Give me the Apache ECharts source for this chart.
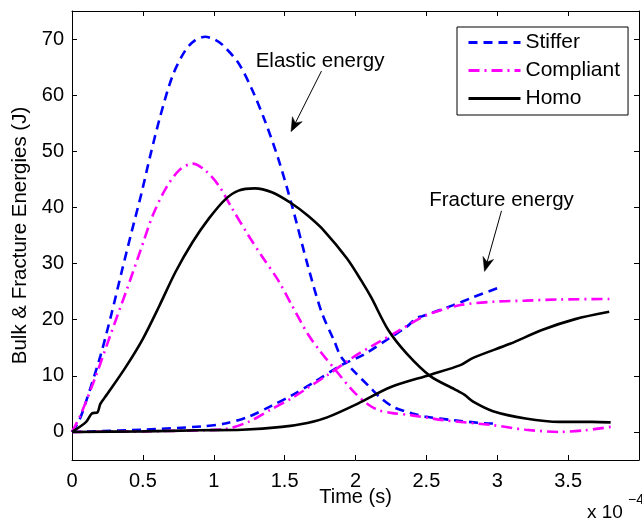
<!DOCTYPE html>
<html>
<head>
<meta charset="utf-8">
<script src="https://cdn.jsdelivr.net/npm/echarts@6/dist/echarts.min.js"></script>
<style>
  html, body { margin: 0; padding: 0; background: #fff; }
  #chart { width: 642px; height: 525px; }
</style>
</head>
<body>
<div id="chart"></div>
<script>
// Time in units of 1e-4 s, energy in J: [time, energy]
const stifferElastic = [[0,0],[0.05,2.0],[0.1,5.5],[0.2,13.5],[0.28,21.2],[0.35,28.5],[0.42,35.6],[0.49,42.5],[0.55,49.0],[0.62,56.0],[0.71,63.5],[0.8,68.0],[0.87,69.8],[0.94,70.4],[1.0,70.0],[1.06,69.0],[1.175,65.7],[1.27,61.0],[1.36,55.5],[1.455,48.7],[1.55,40.5],[1.665,29.5],[1.76,21.4],[1.85,16.2],[1.9,13.3],[1.99,10.8],[2.1,8.0],[2.18,6.0],[2.27,4.4],[2.35,3.7],[2.4,3.3],[2.5,2.7],[2.69,2.1],[2.97,1.5],[3.0,1.5]];
const stifferFracture = [[0,0],[0.15,0.1],[0.5,0.4],[0.92,1.0],[1.08,1.5],[1.245,2.7],[1.41,4.7],[1.55,6.5],[1.71,8.9],[1.9,11.9],[2.06,13.8],[2.25,16.9],[2.36,18.7],[2.43,20.3],[2.47,20.6],[2.69,22.6],[2.83,24.0],[3.0,25.6]];
const compliantElastic = [[0,0],[0.06,3.0],[0.17,10.1],[0.27,17.2],[0.38,24.9],[0.48,32.1],[0.57,38.6],[0.66,43.3],[0.755,46.6],[0.85,47.8],[0.94,46.6],[1.035,43.9],[1.13,39.8],[1.245,35.0],[1.34,31.3],[1.455,27.0],[1.55,22.6],[1.665,17.4],[1.75,14.4],[1.85,11.3],[1.99,7.1],[2.1,4.7],[2.17,3.8],[2.25,3.4],[2.39,3.0],[2.62,2.1],[2.97,1.2],[3.2,0.4],[3.44,0],[3.62,0.3],[3.8,0.9]];
const compliantFracture = [[0,0],[0.5,0.1],[0.92,0.3],[1.08,0.5],[1.245,1.8],[1.41,4.1],[1.55,6.0],[1.66,7.8],[1.8,10.1],[2.02,13.9],[2.27,17.5],[2.5,20.8],[2.74,22.6],[2.97,23.2],[3.2,23.4],[3.44,23.6],[3.8,23.7]];
const homoElastic = [[0,0],[0.1,1.8],[0.14,3.3],[0.18,3.5],[0.2,5.0],[0.25,6.8],[0.38,11.6],[0.5,16.6],[0.615,22.4],[0.73,28.5],[0.85,33.8],[0.965,38.0],[1.08,41.4],[1.175,43.0],[1.29,43.4],[1.41,42.7],[1.55,40.7],[1.665,38.5],[1.78,35.8],[1.94,30.9],[2.04,27.0],[2.11,24.0],[2.23,18.2],[2.36,14.0],[2.53,9.9],[2.7,7.6],[2.77,6.6],[2.83,5.4],[2.97,3.7],[3.2,2.4],[3.44,1.8],[3.67,1.8],[3.8,1.7]];
const homoFracture = [[0,0],[0.5,0.1],[0.9,0.3],[1.2,0.4],[1.48,0.9],[1.66,1.6],[1.8,2.6],[2.02,5.1],[2.25,8.0],[2.53,10.2],[2.74,11.9],[2.83,13.2],[3.09,15.7],[3.32,18.2],[3.55,20.1],[3.79,21.4]];

const legendNames = ['Stiffer', 'Compliant', 'Homo'];
const xTicks = [0, 0.5, 1, 1.5, 2, 2.5, 3, 3.5, 4];
const xTickLabels = ['0', '0.5', '1', '1.5', '2', '2.5', '3', '3.5', ''];
const yTicks = [0, 10, 20, 30, 40, 50, 60, 70];
const xScaleNote = 'x 10';
const xScaleExp = '\u22124';

// Annotations: text anchor and arrow [from, to] in data coordinates
const annotations = [
  { text: 'Elastic energy', at: [1.75, 66.1], from: [1.76, 64.3], to: [1.545, 53.5] },
  { text: 'Fracture energy', at: [3.03, 41.2], from: [3.03, 39.4], to: [2.91, 28.6] }
];

const FONT = '"Liberation Sans", Arial, Helvetica, sans-serif';
const styles = {
  Stiffer: { color: '#0000ff', type: [9, 6] },
  Compliant: { color: '#ff00ff', type: [11, 5, 2, 5] },
  Homo: { color: '#000000', type: 'solid' }
};

function lineSeries(name, data) {
  return {
    name: name,
    type: 'line',
    data: data,
    symbol: 'none',
    smooth: 0.3,
    lineStyle: { color: styles[name].color, width: 2.6, type: styles[name].type },
    itemStyle: { color: styles[name].color },
    emphasis: { disabled: true },
    z: 3
  };
}

const tickStyle = { show: true, inside: true, length: 5, lineStyle: { color: '#000', width: 1 } };
const lineAxis = { show: true, onZero: false, lineStyle: { color: '#000', width: 1 } };

const chart = echarts.init(document.getElementById('chart'), null, { renderer: 'canvas' });
chart.setOption({
  animation: false,
  backgroundColor: '#fff',
  textStyle: { fontFamily: FONT },
  grid: { left: 72, top: 11, width: 573, height: 449, containLabel: false },
  legend: {
    data: legendNames,
    orient: 'vertical',
    left: 457,
    top: 27,
    padding: [5, 8, 6, 10],
    itemWidth: 52,
    itemHeight: 14,
    itemGap: 7,
    borderColor: '#000',
    borderWidth: 1,
    backgroundColor: '#fff',
    selectedMode: false,
    itemStyle: { opacity: 0 },
    lineStyle: { width: 3 },
    textStyle: { fontFamily: FONT, fontSize: 21, color: '#000' }
  },
  xAxis: [
    {
      type: 'value', min: 0, max: 4, interval: 0.5,
      name: 'Time (s)', nameLocation: 'middle', nameGap: 27, nameMoveOverlap: false,
      nameTextStyle: { fontFamily: FONT, fontSize: 20, color: '#000' },
      axisLine: lineAxis, axisTick: tickStyle, splitLine: { show: false },
      axisLabel: {
        fontFamily: FONT, fontSize: 20, color: '#000', margin: 11,
        formatter: function (v) { const i = xTicks.indexOf(v); return i >= 0 ? xTickLabels[i] : ''; }
      }
    },
    {
      type: 'value', min: 0, max: 4, interval: 0.5, position: 'top',
      axisLine: lineAxis, axisTick: tickStyle, axisLabel: { show: false }, splitLine: { show: false }
    }
  ],
  yAxis: [
    {
      type: 'value', min: -5, max: 75,
      name: 'Bulk & Fracture Energies (J)', nameLocation: 'middle', nameGap: 38,
      nameTextStyle: { fontFamily: FONT, fontSize: 20.5, color: '#000' },
      axisLine: lineAxis,
      axisTick: Object.assign({}, tickStyle, { customValues: yTicks }),
      axisLabel: { fontFamily: FONT, fontSize: 20, color: '#000', margin: 8, customValues: yTicks },
      splitLine: { show: false }
    },
    {
      type: 'value', min: -5, max: 75, position: 'right',
      axisLine: lineAxis,
      axisTick: Object.assign({}, tickStyle, { customValues: yTicks }),
      axisLabel: { show: false }, splitLine: { show: false }
    }
  ],
  series: [
    lineSeries('Stiffer', stifferElastic),
    lineSeries('Stiffer', stifferFracture),
    lineSeries('Compliant', compliantElastic),
    lineSeries('Compliant', compliantFracture),
    lineSeries('Homo', homoElastic),
    lineSeries('Homo', homoFracture)
  ]
});

// Annotation text and arrows placed from data coordinates
function arrowHead(tip, from, len, half) {
  const dx = tip[0] - from[0], dy = tip[1] - from[1];
  const d = Math.hypot(dx, dy);
  const ux = dx / d, uy = dy / d, px = -uy, py = ux;
  const bx = tip[0] - ux * len, by = tip[1] - uy * len;
  const nx = tip[0] - ux * len * 0.7, ny = tip[1] - uy * len * 0.7;
  return [tip, [bx + px * half, by + py * half], [nx, ny], [bx - px * half, by - py * half]];
}

const graphics = [];
annotations.forEach(function (a) {
  const c = chart.convertToPixel({ gridIndex: 0 }, a.at);
  const f = chart.convertToPixel({ gridIndex: 0 }, a.from);
  const t = chart.convertToPixel({ gridIndex: 0 }, a.to);
  graphics.push({
    type: 'text', x: c[0], y: c[1], z: 10,
    style: { text: a.text, fontFamily: FONT, fontSize: 20.5, fill: '#000', align: 'center', verticalAlign: 'middle' }
  });
  const head = arrowHead(t, f, 14, 5.5);
  graphics.push({
    type: 'line', z: 10,
    shape: { x1: f[0], y1: f[1], x2: head[2][0], y2: head[2][1] },
    style: { stroke: '#000', lineWidth: 1 }
  });
  graphics.push({
    type: 'polygon', z: 10,
    shape: { points: head },
    style: { fill: '#000', stroke: '#000', lineWidth: 0.5 }
  });
});
graphics.push({
  type: 'text', left: 587, top: 503, z: 10,
  style: { text: xScaleNote, fontFamily: FONT, fontSize: 19, fill: '#000' }
});
graphics.push({
  type: 'text', left: 628, top: 493, z: 10,
  style: { text: xScaleExp, fontFamily: FONT, fontSize: 14, fill: '#000' }
});
chart.setOption({ graphic: graphics });
</script>
</body>
</html>
